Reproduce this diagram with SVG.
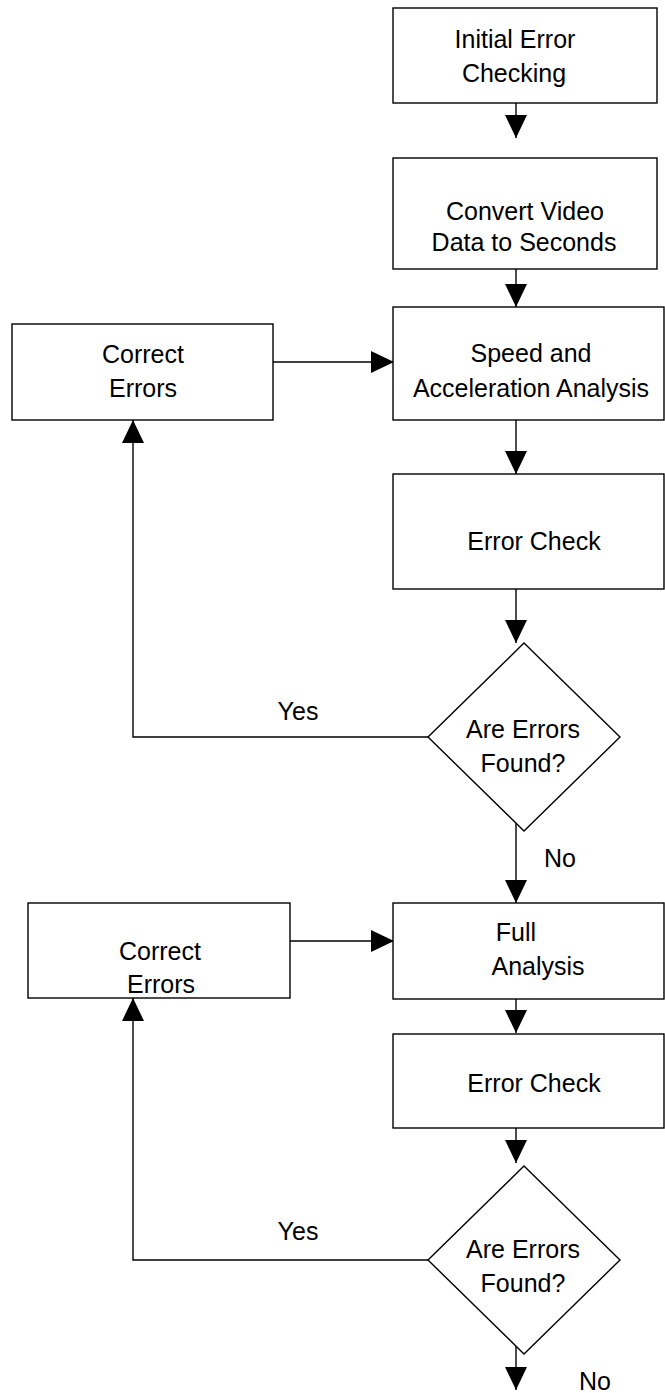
<svg xmlns="http://www.w3.org/2000/svg" width="665" height="1393" viewBox="0 0 665 1393">
  <style>
    .box { fill: #ffffff; stroke: #000000; stroke-width: 1.4; }
    .link { fill: none; stroke: #000000; stroke-width: 1.4; }
    text { font-family: "Liberation Sans", Arial, sans-serif; font-size: 25px; fill: #000000; text-anchor: middle; }
  </style>
  <defs>
    <marker id="arrow" viewBox="0 0 23 22" refX="23" refY="11" markerWidth="23" markerHeight="22" markerUnits="userSpaceOnUse" orient="auto">
      <path d="M0,0 L23,11 L0,22 Z" fill="#000000"/>
    </marker>
  </defs>
  <rect width="665" height="1393" fill="#ffffff"/>

  <!-- connectors -->
  <g id="connectors">
    <path class="link" d="M516,103 V138" marker-end="url(#arrow)"/>
    <path class="link" d="M516,269 V307" marker-end="url(#arrow)"/>
    <path class="link" d="M273,362 H394" marker-end="url(#arrow)"/>
    <path class="link" d="M516,420 V474" marker-end="url(#arrow)"/>
    <path class="link" d="M516,589 V643" marker-end="url(#arrow)"/>
    <path class="link" d="M428,737 H133 V420" marker-end="url(#arrow)"/>
    <path class="link" d="M516,823 V903" marker-end="url(#arrow)"/>
    <path class="link" d="M290,941 H394" marker-end="url(#arrow)"/>
    <path class="link" d="M516,999 V1033" marker-end="url(#arrow)"/>
    <path class="link" d="M516,1128 V1163" marker-end="url(#arrow)"/>
    <path class="link" d="M428,1260 H133 V998" marker-end="url(#arrow)"/>
    <path class="link" d="M516,1346 V1390" marker-end="url(#arrow)"/>
    <text x="298" y="720">Yes</text>
    <text x="560" y="867">No</text>
    <text x="298" y="1240">Yes</text>
    <text x="595" y="1390">No</text>
  </g>

  <!-- process steps -->
  <g id="initial-check">
    <rect class="box" x="393" y="8" width="264" height="95"/>
    <text x="515" y="48">Initial Error</text>
    <text x="514" y="82">Checking</text>
  </g>
  <g id="convert-video">
    <rect class="box" x="393" y="158" width="264" height="111"/>
    <text x="525" y="220">Convert Video</text>
    <text x="524" y="251">Data to Seconds</text>
  </g>
  <g id="speed-acceleration">
    <rect class="box" x="393" y="307" width="271" height="113"/>
    <text x="531" y="362">Speed and</text>
    <text x="531" y="397">Acceleration Analysis</text>
  </g>
  <g id="error-check-1">
    <rect class="box" x="393" y="474" width="271" height="115"/>
    <text x="534" y="550">Error Check</text>
  </g>
  <g id="decision-1">
    <polygon class="box" points="524,643 620,737 524,831 428,737"/>
    <text x="523" y="738">Are Errors</text>
    <text x="523" y="772">Found?</text>
  </g>
  <g id="correct-errors-1">
    <rect class="box" x="12" y="324" width="261" height="96"/>
    <text x="143" y="363">Correct</text>
    <text x="143" y="397">Errors</text>
  </g>
  <g id="full-analysis">
    <rect class="box" x="393" y="903" width="271" height="96"/>
    <text x="516" y="941">Full</text>
    <text x="538" y="975">Analysis</text>
  </g>
  <g id="correct-errors-2">
    <rect class="box" x="28" y="903" width="262" height="95"/>
    <text x="160" y="960">Correct</text>
    <text x="161" y="993">Errors</text>
  </g>
  <g id="error-check-2">
    <rect class="box" x="393" y="1034" width="271" height="94"/>
    <text x="534" y="1092">Error Check</text>
  </g>
  <g id="decision-2">
    <polygon class="box" points="524,1166 620,1260 524,1354 428,1260"/>
    <text x="523" y="1258">Are Errors</text>
    <text x="523" y="1292">Found?</text>
  </g>
</svg>
